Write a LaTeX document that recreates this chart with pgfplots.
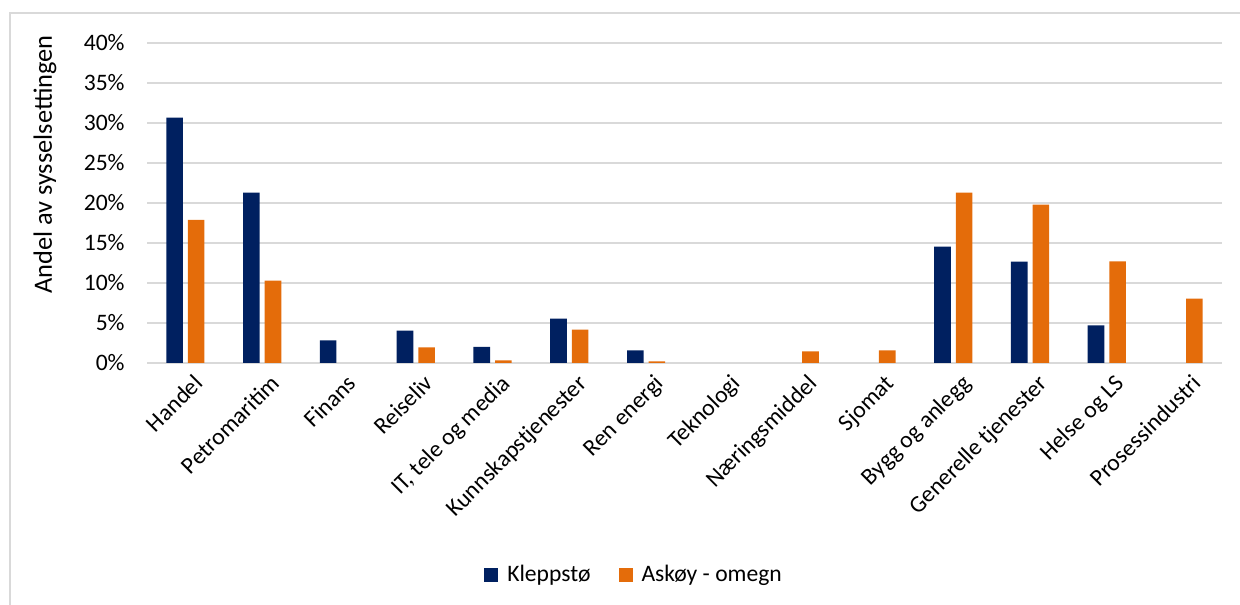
\documentclass[border=0pt]{standalone}
\usepackage{pgfplots}
\pgfplotsset{compat=1.18}
\usepackage{fontspec}
\setmainfont{Carlito}
\definecolor{navy}{HTML}{002060}
\definecolor{orng}{HTML}{E46C0A}
\definecolor{gridc}{HTML}{D9D9D9}

\begin{document}
\begin{tikzpicture}
\useasboundingbox (0,0) rectangle (620pt,302pt);
% outer chart frame (only left and top edges visible)
\draw[gridc, line width=0.6pt] (5pt,-10pt) -- (5pt,295.5pt) -- (630pt,295.5pt);
\begin{axis}[
  at={(73.5pt,120.5pt)}, anchor=south west,
  scale only axis, width=537.5pt, height=160pt,
  xmin=-0.5, xmax=13.5, ymin=0, ymax=40,
  xtick={0,...,13},
  xticklabels={Handel,Petromaritim,Finans,Reiseliv,{IT, tele og media},Kunnskapstjenester,Ren energi,Teknologi,Næringsmiddel,Sjomat,Bygg og anlegg,Generelle tjenester,Helse og LS,Prosessindustri},
  ytick={0,5,...,40},
  yticklabel={\pgfmathprintnumber{\tick}\%},
  /pgf/number format/assume math mode=true,
  ymajorgrids, major grid style={gridc, line width=0.75pt},
  axis line style={draw=none},
  major tick length=0pt,
  tick label style={font=\fontsize{11.8}{14}\selectfont},
  xticklabel style={rotate=45, anchor=north east, inner sep=0pt, xshift=-1pt, yshift=-6pt},
  yticklabel style={inner sep=0pt, xshift=-11pt},
  ylabel={Andel av sysselsettingen},
  ylabel style={font=\fontsize{13.2}{15}\selectfont, at={(axis description cs:-0.095,0.62)}, anchor=center},
  legend style={at={(axis description cs:0.454,-0.6625)}, anchor=center, draw=none,
    font=\fontsize{11.8}{14}\selectfont, legend columns=2,
    /tikz/every even column/.append style={column sep=12pt}},
  legend image code/.code={\fill[#1] (0pt,-3.5pt) rectangle (7pt,3.5pt);},
]
\addplot[ybar, bar width=8.3pt, bar shift=-5.4pt, fill=navy, draw=none]
  coordinates {(0,30.67)(1,21.3)(2,2.83)(3,4.04)(4,2.0)(5,5.54)(6,1.58)(10,14.54)(11,12.67)(12,4.7)};
\addlegendentry{\hspace{2.5pt}Kleppstø}
\addplot[ybar, bar width=8.3pt, bar shift=5.4pt, fill=orng, draw=none]
  coordinates {(0,17.9)(1,10.3)(3,1.96)(4,0.33)(5,4.17)(6,0.2)(8,1.46)(9,1.58)(10,21.3)(11,19.8)(12,12.7)(13,8.04)};
\addlegendentry{\hspace{2.5pt}Askøy - omegn}
\end{axis}
\end{tikzpicture}
\end{document}
